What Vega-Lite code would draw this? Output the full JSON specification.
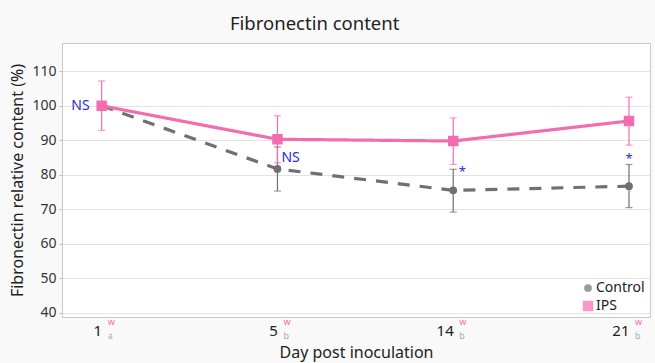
{
  "$schema": "https://vega.github.io/schema/vega-lite/v6.json",
  "width": 588,
  "height": 274,
  "autosize": {"type": "none"},
  "padding": {"left": 62, "top": 43, "right": 5, "bottom": 46},
  "background": "#f9f9f9",
  "config": {
    "font": "Noto Sans",
    "view": {"fill": "white", "stroke": "#c8c8c8", "strokeWidth": 1},
    "axisY": {
      "tickCount": 8,
      "titleFontSize": 16,
      "titleFontWeight": "normal",
      "titleColor": "#222222",
      "titlePadding": 6,
      "labelFontSize": 14,
      "labelColor": "#333333",
      "labelPadding": 3,
      "labelOverlap": false,
      "tickSize": 3,
      "tickColor": "#bbbbbb",
      "gridColor": "#e3e3e3",
      "domain": false
    }
  },
  "title": {
    "text": "Fibronectin content",
    "anchor": "start",
    "frame": "group",
    "dx": 168,
    "fontSize": 18.5,
    "fontWeight": "normal",
    "color": "#222222",
    "offset": 10
  },
  "datasets": {
    "series": [
      {"day": "1", "group": "Control", "value": 100, "lo": null, "hi": null},
      {"day": "5", "group": "Control", "value": 81.7, "lo": 75.3, "hi": 88.1},
      {"day": "14", "group": "Control", "value": 75.5, "lo": 69.2, "hi": 81.6},
      {"day": "21", "group": "Control", "value": 76.7, "lo": 70.5, "hi": 83.0},
      {"day": "1", "group": "IPS", "value": 100, "lo": 92.9, "hi": 107.2},
      {"day": "5", "group": "IPS", "value": 90.3, "lo": 83.5, "hi": 97.1},
      {"day": "14", "group": "IPS", "value": 89.8, "lo": 83.0, "hi": 96.5},
      {"day": "21", "group": "IPS", "value": 95.6, "lo": 88.6, "hi": 102.5}
    ],
    "ticklabels": [
      {"day": "1", "sup": "w", "sub": "a"},
      {"day": "5", "sup": "w", "sub": "b"},
      {"day": "14", "sup": "w", "sub": "b"},
      {"day": "21", "sup": "w", "sub": "b"}
    ]
  },
  "encoding": {
    "x": {
      "field": "day",
      "type": "ordinal",
      "sort": null,
      "scale": {"type": "point", "domain": ["1", "5", "14", "21"], "padding": 0.1726, "align": 0.654},
      "axis": {
        "title": "Day post inoculation",
        "titleFontSize": 16,
        "titleFontWeight": "normal",
        "titleColor": "#222222",
        "titlePadding": 6,
        "labelAngle": 0,
        "labelFontSize": 15,
        "labelColor": "#222222",
        "labelAlign": "right",
        "labelDx": 5,
        "labelBaseline": "alphabetic",
        "labelPadding": 18,
        "ticks": false,
        "tickSize": 0,
        "domain": false,
        "grid": false
      }
    }
  },
  "layer": [
    {
      "data": {"name": "series"},
      "mark": {"type": "rule", "strokeWidth": 1.2},
      "encoding": {
        "y": {
          "field": "lo",
          "type": "quantitative",
          "scale": {"domain": [38.8, 118.2], "nice": false, "zero": false},
          "title": "Fibronectin relative content (%)"
        },
        "y2": {"field": "hi"},
        "color": {"field": "group", "type": "nominal",
          "scale": {"domain": ["Control", "IPS"], "range": ["#707070", "#f26cb0"]}}
      }
    },
    {
      "data": {"name": "series"},
      "mark": {"type": "tick", "thickness": 1.2, "size": 7, "orient": "horizontal"},
      "encoding": {
        "y": {"field": "lo", "type": "quantitative"},
        "color": {"field": "group", "type": "nominal"}
      }
    },
    {
      "data": {"name": "series"},
      "mark": {"type": "tick", "thickness": 1.2, "size": 7, "orient": "horizontal"},
      "encoding": {
        "y": {"field": "hi", "type": "quantitative"},
        "color": {"field": "group", "type": "nominal"}
      }
    },
    {
      "data": {"name": "series"},
      "mark": {"type": "line", "strokeWidth": 3.2},
      "encoding": {
        "y": {"field": "value", "type": "quantitative"},
        "color": {"field": "group", "type": "nominal"},
        "strokeDash": {"field": "group", "type": "nominal", "legend": null,
          "scale": {"domain": ["Control", "IPS"], "range": [[12, 10], [1, 0]]}}
      }
    },
    {
      "data": {"name": "series"},
      "mark": {"type": "point", "filled": true, "opacity": 1},
      "encoding": {
        "y": {"field": "value", "type": "quantitative"},
        "color": {
          "field": "group",
          "type": "nominal",
          "legend": {
            "title": null,
            "orient": "none",
            "legendX": 519,
            "legendY": 238,
            "labelFontSize": 14,
            "labelColor": "#222222",
            "symbolSize": 30,
            "symbolStrokeWidth": 0,
            "symbolDash": [1, 0],
            "rowPadding": 4,
            "labelOffset": 1,
            "encode": {"symbols": {"update": {"size": {"value": 30}, "strokeWidth": {"value": 0}}}}
          }
        },
        "shape": {
          "field": "group",
          "type": "nominal",
          "scale": {"domain": ["Control", "IPS"], "range": ["circle", "square"]}
        },
        "size": {
          "field": "group",
          "type": "nominal",
          "scale": {"domain": ["Control", "IPS"], "range": [60, 110]},
          "legend": null
        }
      }
    },
    {
      "data": {"values": [{"day": "1", "label": "NS", "pos": 100}]},
      "mark": {"type": "text", "align": "right", "dx": -12, "baseline": "middle", "fontSize": 14, "color": "#2a2ad6"},
      "encoding": {"y": {"field": "pos", "type": "quantitative"}, "text": {"field": "label"}}
    },
    {
      "data": {"values": [{"day": "5", "label": "NS", "pos": 85.0}]},
      "mark": {"type": "text", "align": "left", "dx": 4, "baseline": "middle", "fontSize": 14, "color": "#2a2ad6"},
      "encoding": {"y": {"field": "pos", "type": "quantitative"}, "text": {"field": "label"}}
    },
    {
      "data": {"values": [{"day": "14", "label": "*", "pos": 80.9}]},
      "mark": {"type": "text", "align": "center", "dx": 9, "baseline": "middle", "fontSize": 13, "color": "#2a2ad6"},
      "encoding": {"y": {"field": "pos", "type": "quantitative"}, "text": {"field": "label"}}
    },
    {
      "data": {"values": [{"day": "21", "label": "*", "pos": 84.5}]},
      "mark": {"type": "text", "align": "center", "dx": 0, "baseline": "middle", "fontSize": 13, "color": "#2a2ad6"},
      "encoding": {"y": {"field": "pos", "type": "quantitative"}, "text": {"field": "label"}}
    },
    {
      "data": {"name": "ticklabels"},
      "mark": {"type": "text", "align": "left", "dx": 6, "dy": 8, "baseline": "alphabetic", "fontSize": 9, "color": "#f26cb0"},
      "encoding": {"y": {"datum": 38.8, "type": "quantitative"}, "text": {"field": "sup"}}
    },
    {
      "data": {"name": "ticklabels"},
      "mark": {"type": "text", "align": "left", "dx": 6, "dy": 22, "baseline": "alphabetic", "fontSize": 9, "color": "#aaaaaa"},
      "encoding": {"y": {"datum": 38.8, "type": "quantitative"}, "text": {"field": "sub"}}
    }
  ]
}
